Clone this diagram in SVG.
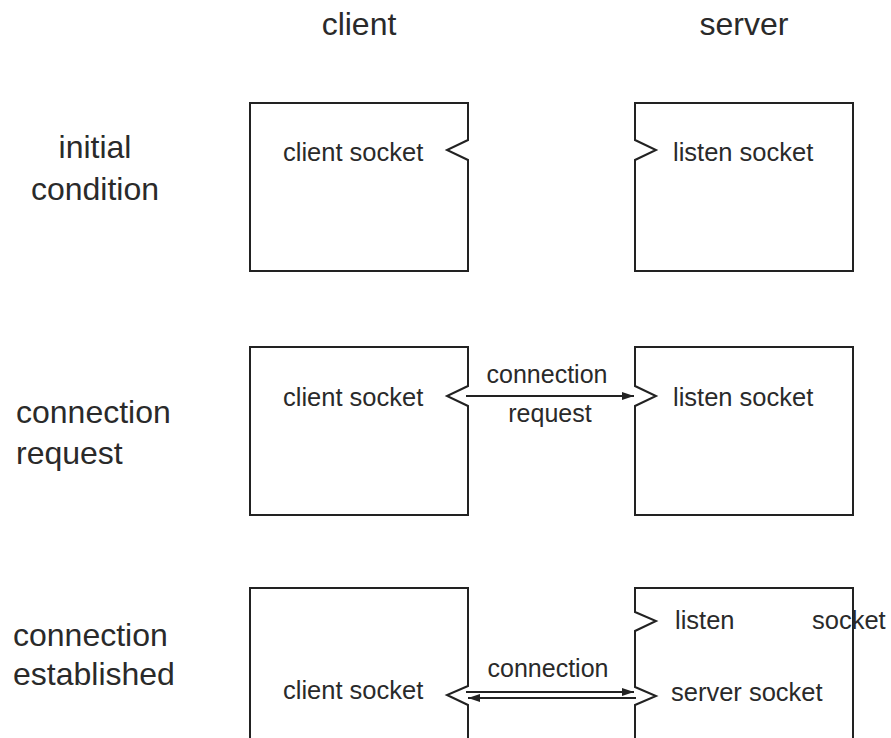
<svg xmlns="http://www.w3.org/2000/svg" width="891" height="738" viewBox="0 0 891 738">
<style>
.bg{fill:#fff}
.box{fill:#fff;stroke:#222;stroke-width:2;stroke-linejoin:miter}
.h{font-family:"Liberation Sans",Arial,sans-serif;font-size:32px;fill:#2a2a2a}
.t{font-family:"Liberation Sans",Arial,sans-serif;font-size:25.5px;fill:#2a2a2a}
.c{font-family:"Liberation Sans",Arial,sans-serif;font-size:25px;fill:#2a2a2a;text-anchor:middle}
.ln{stroke:#222;stroke-width:2;fill:none}
</style>
<defs>
<marker id="ah" viewBox="0 0 12 8" refX="12" refY="4" markerWidth="12" markerHeight="8" markerUnits="userSpaceOnUse" orient="auto">
<path d="M0,0 L12,4 L0,8 Z" fill="#222"/>
</marker>
</defs>
<rect class="bg" x="0" y="0" width="891" height="738"/>
<g id="headers">
<text class="h" x="359" y="35" text-anchor="middle">client</text>
<text class="h" x="744" y="35" text-anchor="middle">server</text>
</g>
<g id="row-labels">
<text class="h" x="95" y="158" text-anchor="middle">initial</text>
<text class="h" x="95" y="200" text-anchor="middle">condition</text>
<text class="h" x="16" y="423">connection</text>
<text class="h" x="16" y="464">request</text>
<text class="h" x="13" y="646">connection</text>
<text class="h" x="13" y="685">established</text>
</g>
<g id="client1">
<path class="box" d="M250,103 H468 V140 L447,150 L468,160 V271 H250 Z"/>
<text class="t" x="283" y="161">client socket</text>
</g>
<g id="server1">
<path class="box" d="M635,103 H853 V271 H635 V160 L656,150 L635,140 Z"/>
<text class="t" x="673" y="161">listen socket</text>
</g>
<g id="client2">
<path class="box" d="M250,347 H468 V386 L447,396 L468,406 V515 H250 Z"/>
<text class="t" x="283" y="406">client socket</text>
</g>
<g id="server2">
<path class="box" d="M635,347 H853 V515 H635 V406 L656,396 L635,386 Z"/>
<text class="t" x="673" y="406">listen socket</text>
</g>
<g id="client3">
<path class="box" d="M250,740 V588 H468 V686 L447,695 L468,705 V740"/>
<text class="t" x="283" y="699">client socket</text>
</g>
<g id="server3">
<path class="box" d="M853,740 V588 H635 V612 L656,621 L635,631 V687 L656,696 L635,705 V740"/>
<text class="t" x="675" y="629">listen</text>
<text class="t" x="812" y="629">socket</text>
<text class="t" x="671" y="701">server socket</text>
</g>
<g id="connectors">
<line class="ln" x1="466" y1="396" x2="634" y2="396" marker-end="url(#ah)"/>
<text class="c" x="547" y="383">connection</text>
<text class="c" x="550" y="422">request</text>
<line class="ln" x1="466" y1="692" x2="634" y2="692" marker-end="url(#ah)"/>
<line class="ln" x1="636" y1="698" x2="468" y2="698" marker-end="url(#ah)"/>
<text class="c" x="548" y="677">connection</text>
</g>
</svg>
